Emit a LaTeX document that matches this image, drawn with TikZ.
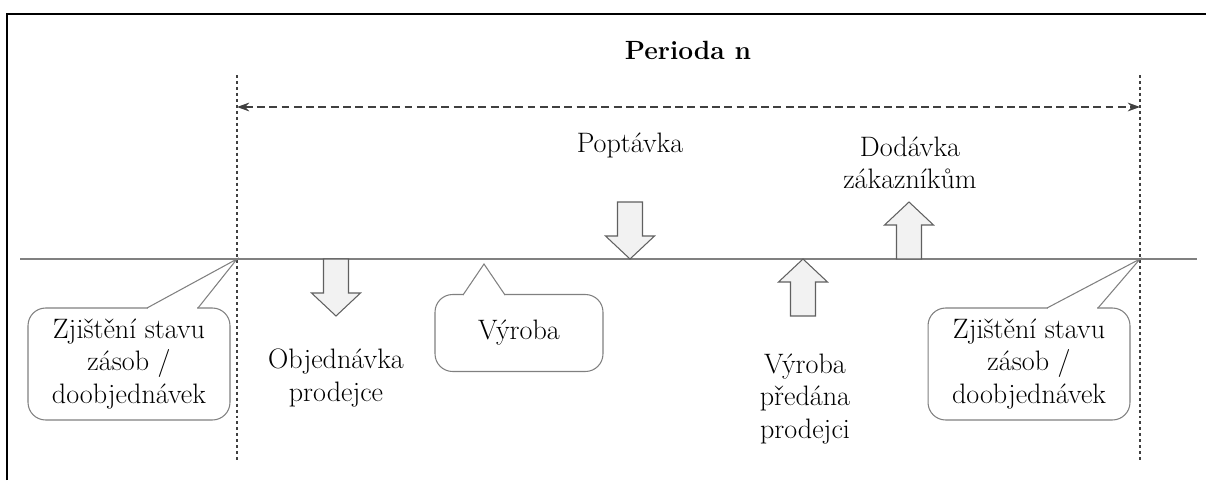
\documentclass[tikz,border=0pt]{standalone}
\usetikzlibrary{positioning, arrows.meta}

\definecolor{linegray}{HTML}{808080}
\definecolor{arrowgray}{HTML}{606060}
\definecolor{arrowfill}{HTML}{F2F2F2}
\definecolor{dotgray}{HTML}{404040}

\begin{document}
\begin{tikzpicture}[x=0.02cm, y=-0.02cm,
  lbl/.style={align=center, font=\fontsize{16}{18.5}\selectfont, inner sep=0pt},
  callbox/.style={lbl, draw=linegray, line width=0.6pt, rounded corners=10, fill=white},
  callline/.style={draw=linegray, line width=0.6pt},
  blockdown/.pic={\draw[arrowgray, fill=arrowfill, line width=0.6pt] (-12.5,-57) -- (12.5,-57) -- (12.5,-23) -- (24.5,-23) -- (0,0) -- (-24.5,-23) -- (-12.5,-23) -- cycle;},
  blockup/.pic={\draw[arrowgray, fill=arrowfill, line width=0.6pt] (-12.5,57) -- (12.5,57) -- (12.5,23) -- (24.5,23) -- (0,0) -- (-24.5,23) -- (-12.5,23) -- cycle;}]
\useasboundingbox (0,0) rectangle (1206,480);
% frame
\draw[line width=1.2pt] (7,480) -- (7,14) -- (1206,14);

% period borders
\coordinate (ltop) at (237,75);
\coordinate (lbot) at (237,462);
\coordinate (rtop) at (1140,75);
\coordinate (rbot) at (1140,462);
\coordinate (pleft) at (237,107);
\coordinate (pright) at (1140,107);
\draw[dotgray, line width=1.1pt, dash pattern=on 1.7pt off 1.7pt] (ltop) -- (lbot);
\draw[dotgray, line width=1.1pt, dash pattern=on 1.7pt off 1.7pt] (rtop) -- (rbot);
\draw[dotgray, line width=0.9pt, dash pattern=on 4.5pt off 2.5pt, {Stealth[length=7pt,width=5pt]}-{Stealth[length=7pt,width=5pt]}] (pleft) -- (pright);
\node[lbl, font=\fontsize{15}{18}\selectfont\bfseries] (period) at (688,50) {Perioda n};

% time axis
\coordinate (tstart) at (20,259);
\coordinate (tend) at (1197,259);
\draw[linegray, line width=1.1pt] (tstart) -- (tend);
\coordinate (ltip) at (237,259);
\coordinate (rtip) at (1140,259);
\coordinate (vtip) at (484,264);

% arrows
\pic at (630,259) {blockdown};
\pic at (336,316) {blockdown};
\pic at (803,259) {blockup};
\pic at (909,202) {blockup};

% labels
\node[lbl] (poptavka) at (630,145) {Poptávka};
\node[lbl] (dodavka) at (910,163) {Dodávka\\zákazníkům};
\node[lbl] (objednavka) at (336,378) {Objednávka\\prodejce};
\node[lbl] (predana) at (805,399) {Výroba\\předána\\prodejci};

% callouts
\node[callbox, minimum width=4.04cm, minimum height=2.24cm] (lstav) at (129,364) {Zjištění stavu\\zásob /\\doobjednávek};
\fill[white] (148,305) rectangle (197,311);
\draw[callline] (147,308) -- (ltip) -- (198,308);

\node[callbox, minimum width=4.04cm, minimum height=2.24cm] (rstav) at (1029,364) {Zjištění stavu\\zásob /\\doobjednávek};
\fill[white] (1048,305) rectangle (1097,311);
\draw[callline] (1047,308) -- (rtip) -- (1098,308);

\node[callbox, minimum width=3.36cm, minimum height=1.54cm] (vyroba) at (519,333) {Výroba};
\fill[white] (464,292) rectangle (504,298);
\draw[callline] (463,295) -- (vtip) -- (505,295);
\end{tikzpicture}
\end{document}
